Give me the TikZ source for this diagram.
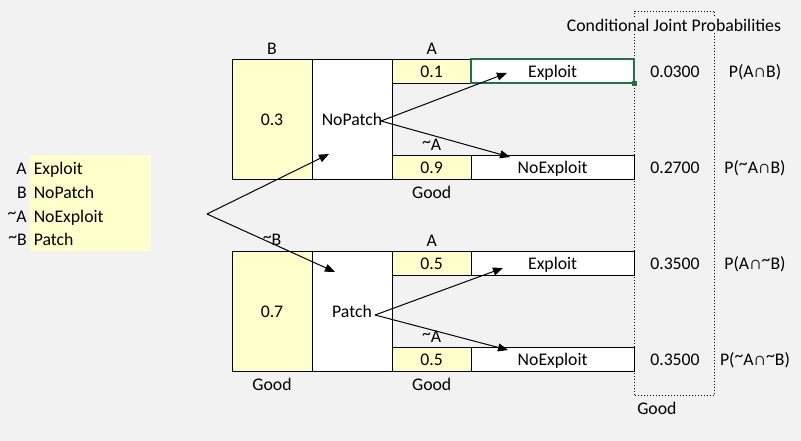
\documentclass[tikz,border=0pt]{standalone}
\usepackage{fontspec}
\setmainfont{Carlito}
\usetikzlibrary{arrows.meta,positioning}
\definecolor{sheet}{HTML}{F2F2F2}
\definecolor{cellyellow}{HTML}{FFFFCC}
\definecolor{selgreen}{HTML}{217346}
\newcommand{\tld}{\raisebox{0.18em}{\textasciitilde}}

\begin{document}
\begin{tikzpicture}[
  x=0.75pt,y=-0.75pt,
  font=\fontsize{13.3}{15}\selectfont,
  cell/.style={draw,line width=0.75pt,inner sep=0pt,outer sep=0pt,fill=white,text height=8.5pt,text depth=0pt},
  bigcell/.style={cell,minimum width=60pt,minimum height=90pt},
  probcell/.style={cell,fill=cellyellow,minimum width=59.5pt,minimum height=18pt},
  outcell/.style={cell,minimum width=122pt,minimum height=18pt},
  lbl/.style={inner sep=0pt,text height=8.5pt,text depth=0pt},
  arr/.style={-{Triangle[length=7.5pt,width=6pt]},line width=0.75pt}
]
\fill[sheet] (0,0) rectangle (801,441);
\useasboundingbox (0,0) rectangle (801,441);

% legend
\node[fill=cellyellow,inner sep=0pt,minimum width=90.75pt,minimum height=72pt,anchor=north west] (legend) at (30,155) {};
\foreach \k/\v [count=\i] in {A/Exploit,B/NoPatch,\tld A/NoExploit,\tld B/Patch} {
  \node[lbl,anchor=east] (lk\i) at (27,145+23.8*\i) {\k};
  \node[lbl,anchor=west] (lv\i) at (33.5,145+23.8*\i) {\v};
}

% joint probability column
\node[draw,dash pattern=on 0.75pt off 1.5pt,line width=0.75pt,inner sep=0pt,minimum width=60pt,minimum height=288pt,anchor=north west] (jbox) at (634.3,11) {};
\node[fill=sheet,inner sep=0pt,minimum height=12pt] (title) at (674,25) {Conditional Joint Probabilities};
\node[lbl,anchor=west] (goodj) at (637,409) {Good};

% NoPatch branch
\node[bigcell,fill=cellyellow,anchor=north west] (b) at (232,59.5) {0.3};
\node[bigcell,right=0pt of b] (np) {NoPatch};
\node[probcell,anchor=north west] (pa) at (np.north east) {0.1};
\node[outcell,right=0pt of pa] (ex1) {Exploit};
\node[probcell,anchor=south west] (pna) at (np.south east) {0.9};
\node[outcell,right=0pt of pna] (nx1) {NoExploit};
\node[lbl,above=3.6pt of b] (lb) {B};
\node[lbl,above=3.6pt of pa] (la1) {A};
\node[lbl,above=3.6pt of pna] (lna1) {\tld A};
\node[lbl,below=5.6pt of pna] (g1) {Good};
\draw[selgreen,line width=1.5pt] (ex1.north west) rectangle (ex1.south east);
\fill[selgreen] ([shift={(-2.5,-2.5)}]ex1.south east) rectangle ([shift={(2.5,2.5)}]ex1.south east);

% Patch branch
\node[bigcell,fill=cellyellow,anchor=north west] (nb) at (232,251.5) {0.7};
\node[bigcell,right=0pt of nb] (pt) {Patch};
\node[probcell,anchor=north west] (qa) at (pt.north east) {0.5};
\node[outcell,right=0pt of qa] (ex2) {Exploit};
\node[probcell,anchor=south west] (qna) at (pt.south east) {0.5};
\node[outcell,right=0pt of qna] (nx2) {NoExploit};
\node[lbl,above=4.4pt of nb] (lnb) {\tld B};
\node[lbl,above=3.6pt of qa] (la2) {A};
\node[lbl,above=3.2pt of qna] (lna2) {\tld A};
\node[lbl,below=5.9pt of nb] (g2) {Good};
\node[lbl,below=5.9pt of qna] (g3) {Good};

% joint values
\coordinate (jx) at (675,0);
\coordinate (px) at (755,0);
\foreach \r/\v/\p [count=\i] in {pa/0.0300/P(A∩B),pna/0.2700/P(\tld A∩B),qa/0.3500/P(A∩\tld B),qna/0.3500/P(\tld A∩\tld B)} {
  \node[lbl] (j\i) at (jx |- \r) {\v};
  \node[lbl] (pj\i) at (px |- \r) {\p};
}

% arrows
\coordinate (root) at (207,214);
\coordinate (nptip) at (329,154);
\coordinate (ptip) at (335,272);
\coordinate (npo) at (381,121);
\coordinate (ex1tip) at (507,73);
\coordinate (nx1tip) at (510,157);
\coordinate (pto) at (375,315);
\coordinate (ex2tip) at (503,268);
\coordinate (nx2tip) at (508,350);
\foreach \x/\y in {root/nptip,root/ptip,npo/ex1tip,npo/nx1tip,pto/ex2tip,pto/nx2tip} \draw[arr] (\x) -- (\y);
\end{tikzpicture}
\end{document}
